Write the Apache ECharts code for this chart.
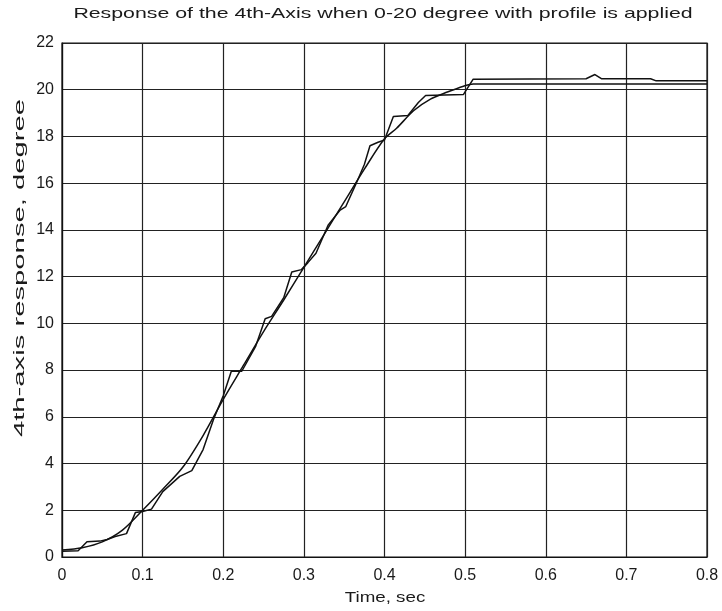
<!DOCTYPE html>
<html>
<head>
<meta charset="utf-8">
<script src="https://cdn.jsdelivr.net/npm/echarts@6/dist/echarts.min.js"></script>
<style>
  html, body { margin: 0; padding: 0; background: #fff; }
  #chart { width: 722px; height: 611px; }
</style>
</head>
<body>
<div id="chart"></div>
<script>
// Commanded motion profile (time in s, angle in degrees)
const profileTime = [0, 0.025, 0.05, 0.075, 0.1, 0.125, 0.15, 0.175, 0.2, 0.225, 0.25, 0.275, 0.3, 0.325, 0.35, 0.375, 0.4, 0.415, 0.436, 0.457, 0.478, 0.498, 0.51, 0.8];
const profileDeg  = [0.3, 0.4, 0.65, 1.15, 2.0, 2.9, 3.85, 5.2, 6.75, 8.2, 9.65, 11.0, 12.4, 13.8, 15.2, 16.6, 17.9, 18.35, 19.1, 19.6, 19.9, 20.15, 20.25, 20.25];

// Measured 4th-axis response
const responseTime = [0, 0.02, 0.031, 0.047, 0.056, 0.066, 0.08, 0.091, 0.1, 0.111, 0.125, 0.146, 0.161, 0.175, 0.188, 0.2, 0.21, 0.223, 0.24, 0.252, 0.26, 0.275, 0.285, 0.297, 0.305, 0.315, 0.33, 0.345, 0.352, 0.365, 0.375, 0.382, 0.392, 0.4, 0.411, 0.429, 0.442, 0.451, 0.498, 0.51, 0.65, 0.661, 0.669, 0.73, 0.737, 0.8];
const responseDeg  = [0.25, 0.27, 0.65, 0.68, 0.75, 0.88, 1.0, 1.9, 1.95, 2.05, 2.8, 3.45, 3.7, 4.6, 5.9, 6.9, 7.95, 7.95, 9.0, 10.2, 10.3, 11.1, 12.2, 12.3, 12.6, 13.0, 14.2, 14.85, 15.0, 16.0, 16.8, 17.6, 17.75, 17.85, 18.85, 18.9, 19.45, 19.75, 19.8, 20.45, 20.47, 20.65, 20.47, 20.47, 20.38, 20.38];

const xTicks = { min: 0, max: 0.8, interval: 0.1 };
const yTicks = { min: 0, max: 22, interval: 2 };

const titleText = 'Response of the 4th-Axis when 0-20 degree with profile is applied';
const xName = 'Time, sec';
const yName = '4th-axis response, degree';

const pairs = (xs, ys) => xs.map((x, i) => [x, ys[i]]);

const font = 'Liberation Sans, Arial, sans-serif';
const ink = '#1a1a1a';
const chart = echarts.init(document.getElementById('chart'), null, { renderer: 'canvas' });

chart.setOption({
  backgroundColor: '#ffffff',
  animation: false,
  grid: {
    left: 62, right: 15, top: 43, bottom: 54,
    show: true, borderColor: '#111', borderWidth: 1.2, backgroundColor: '#fff'
  },
  // Title and axis names are drawn as widely tracked text
  graphic: [
    {
      type: 'text', x: 383, y: 14, scaleX: 1.42, silent: true,
      style: { text: titleText, fontFamily: font, fontSize: 15, fill: ink, align: 'center', verticalAlign: 'middle' }
    },
    {
      type: 'text', x: 385, y: 598, scaleX: 1.25, silent: true,
      style: { text: xName, fontFamily: font, fontSize: 15, fill: ink, align: 'center', verticalAlign: 'middle' }
    },
    {
      type: 'text', x: 20, y: 268, rotation: Math.PI / 2, scaleX: 1.95, silent: true,
      style: { text: yName, fontFamily: font, fontSize: 15, fill: ink, align: 'center', verticalAlign: 'middle' }
    }
  ],
  xAxis: {
    type: 'value',
    min: xTicks.min, max: xTicks.max, interval: xTicks.interval,
    axisLine: { show: true, lineStyle: { color: '#111', width: 1.2 } },
    axisTick: { show: false },
    axisLabel: { fontFamily: font, fontSize: 16, color: ink, margin: 11 },
    splitLine: { show: true, lineStyle: { color: '#222', width: 1.2 } }
  },
  yAxis: {
    type: 'value',
    min: yTicks.min, max: yTicks.max, interval: yTicks.interval,
    axisLine: { show: true, lineStyle: { color: '#111', width: 1.2 } },
    axisTick: { show: false },
    axisLabel: { fontFamily: font, fontSize: 16, color: ink, margin: 8 },
    splitLine: { show: true, lineStyle: { color: '#222', width: 1.2 } }
  },
  series: [
    {
      name: 'Profile',
      type: 'line',
      data: pairs(profileTime, profileDeg),
      smooth: 0.3,
      showSymbol: false,
      lineStyle: { color: '#111', width: 1.5 }
    },
    {
      name: 'Response',
      type: 'line',
      data: pairs(responseTime, responseDeg),
      showSymbol: false,
      lineStyle: { color: '#111', width: 1.5 }
    }
  ]
});
</script>
</body>
</html>
